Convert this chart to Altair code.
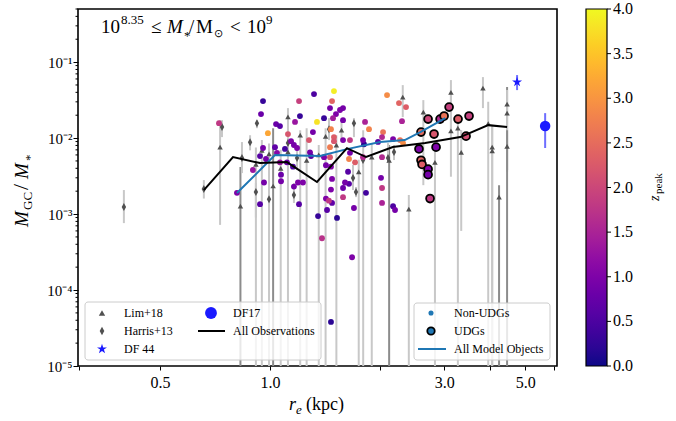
import altair as alt
import pandas as pd

FONT = "Liberation Serif"
OX, OY = 78, 9
W, H = 479, 357

# ---------------- data ----------------
# Lim+18 (triangles): r_e [kpc], M_GC/M_*, lower, upper (lower 1e-9 = error bar reaching zero)
lim_r = [0.73, 0.83, 1.02, 1.07, 1.12, 1.26, 1.75, 1.90, 2.12, 2.31, 2.40, 2.63, 2.83, 3.13, 3.13,
         3.34, 3.83, 4.06, 4.06, 4.24, 4.46, 4.46, 4.46, 0.95, 1.21, 1.36, 1.52, 1.80, 1.57,
         0.915, 0.994, 1.12, 1.42, 3.27, 3.96]
lim_v = [0.0076, 0.00127, 0.00234, 0.0040, 0.019, 0.0051, 0.0036, 0.0056, 0.0051, 0.0346, 0.00116,
         0.022, 0.0048, 0.040, 0.0124, 0.0065, 0.0455, 0.0076, 0.0068, 0.00167, 0.028, 0.0213, 0.0078,
         0.0069, 0.0109, 0.0060, 0.0081, 0.0094, 0.0127,
         0.0045, 0.0062, 0.0066, 0.0105, 0.0135, 0.0155]
lim_lo = [0.00072, 1e-9, 1e-9, 1e-9, 0.0116, 1e-9, 1e-9, 1e-9, 1e-9, 0.0189, 1e-9, 0.0024, 1e-9,
          0.0127, 0.0031, 0.0006, 0.0248, 1e-9, 1e-9, 1e-9, 0.0038, 0.0036, 1e-9, 1e-9, 1e-9, 1e-9,
          1e-9, 1e-9, 0.0094,
          1e-9, 1e-9, 1e-9, 1e-9, 1e-9, 1e-9]
lim_hi = [0.0172, 0.00415, 0.0135, 0.0070, 0.0248, 0.0135, 0.0052, 0.0086, 0.0081, 0.0498, 0.00178,
          0.0316, 0.0074, 0.058, 0.043, 0.0127, 0.0635, 0.0148, 0.014, 0.0024, 0.047, 0.043, 0.0127,
          0.0094, 0.0127, 0.0081, 0.0109, 0.0127, 0.017,
          0.0075, 0.0085, 0.009, 0.0135, 0.02, 0.03]
lim_dark = [0, 1, 1, 0, 0, 0, 0, 0, 1, 0, 0, 0, 0, 0, 0, 0, 0, 0, 0, 1, 1, 0, 1, 0, 0, 0, 0, 0, 0,
            0, 0, 0, 0, 0, 0]

# Harris+13 (diamonds)
har_r = [0.398, 0.659, 0.739, 0.838, 0.882, 0.921, 0.915, 0.994, 1.163, 1.186, 1.451, 1.698, 1.688,
         1.720, 1.798, 2.105, 2.186, 1.120]
har_v = [0.00124, 0.00213, 0.014, 0.00545, 0.0088, 0.0157, 0.00195, 0.00157, 0.00178, 0.00545,
         0.0131, 0.0157, 0.00298, 0.00195, 0.00514, 0.00545, 0.00654, 0.0086]
har_lo = [0.00076, 0.0016, 0.0103, 0.00346, 0.0069, 0.0135, 0.0009, 0.00113, 0.0014, 0.00379,
          0.0094, 0.0103, 0.00207, 0.00167, 0.00415, 0.00469, 0.00514, 0.00695]
har_hi = [0.00207, 0.0028, 0.0172, 0.00886, 0.0109, 0.0172, 0.00256, 0.00207, 0.00256, 0.0074,
          0.0183, 0.0183, 0.00442, 0.00227, 0.00635, 0.0086, 0.0081, 0.0109]

# DF 44 and DF17
df44_r, df44_v, df44_lo, df44_hi = [4.75], [0.0546], [0.0428], [0.0675]
df17_r, df17_v, df17_lo, df17_hi = [5.67], [0.0144], [0.0074], [0.0213]

# All Observations (black line)
obs_line_r = [0.659, 0.792, 0.939, 1.113, 1.345, 1.625, 1.833, 2.17, 2.66, 3.32, 3.96, 4.46]
obs_line_v = [0.00207, 0.00563, 0.00469, 0.00483, 0.00264, 0.00738, 0.00563, 0.00762, 0.0086,
              0.0103, 0.0148, 0.014]

# All Model Objects (blue line)
mod_line_r = [0.812, 1.032, 1.371, 1.625, 2.0, 2.34, 2.58, 3.02]
mod_line_v = [0.00189, 0.00597, 0.0058, 0.00716, 0.00886, 0.0094, 0.012, 0.0183]

# Model non-UDGs: r_e, M_GC/M_*, z_peak
nu_r = [0.725, 0.957, 0.945, 0.987, 1.201, 1.320, 1.497, 1.479, 1.208, 1.171, 1.039, 1.065, 1.345,
        1.406, 1.460, 1.516, 1.488, 1.469, 1.497, 1.497, 1.311, 1.279, 1.120, 1.142, 1.163, 1.186,
        1.099, 1.032, 0.957, 0.939, 0.975, 1.045, 1.065, 1.113, 0.898, 0.963, 1.072, 1.072, 1.163,
        1.193, 1.231, 1.156, 1.287, 1.295, 1.406, 1.423, 1.460, 1.460, 1.469, 1.479, 1.469, 1.423,
        0.812, 0.939, 1.201, 1.354, 1.433, 1.526, 1.479, 1.45, 1.585, 1.585, 1.646, 1.698, 1.832,
        1.388, 1.678, 1.469, 1.555, 1.585, 1.585, 1.585, 1.821, 1.867, 2.040, 2.027, 1.809, 1.798,
        1.976, 2.173, 2.271, 2.314, 2.092, 2.256, 2.358, 2.299, 1.656, 1.646, 1.710, 1.636, 1.605,
        1.798, 2.027, 2.014, 2.027, 2.027, 2.173, 2.200, 1.656]
nu_v = [0.0157, 0.0307, 0.0207, 0.0116, 0.0307, 0.0379, 0.0415, 0.0307, 0.0195, 0.0163, 0.0153,
        0.0144, 0.0163, 0.0183, 0.0248, 0.0207, 0.0183, 0.0131, 0.0103, 0.0091, 0.0120, 0.0094,
        0.0113, 0.0091, 0.0081, 0.0074, 0.0072, 0.0076, 0.0074, 0.0058, 0.0053, 0.0064, 0.0048,
        0.0048, 0.0038, 0.0026, 0.0033, 0.0027, 0.0023, 0.0026, 0.0026, 0.0042, 0.0065, 0.0058,
        0.0056, 0.0044, 0.0056, 0.0076, 0.0042, 0.0029, 0.0021, 0.0016, 0.0019, 0.00135, 0.00135,
        0.00094, 0.00113, 0.00089, 0.0014, 0.0015, 0.00167, 0.0022, 0.0025, 0.0012, 0.0019, 0.00048,
        0.00027, 0.000038, 0.0234, 0.0248, 0.0172, 0.0094, 0.0163, 0.0131, 0.0120, 0.0103, 0.0083,
        0.0094, 0.0089, 0.0097, 0.0094, 0.0086, 0.0368, 0.0289, 0.0256, 0.0167, 0.0064, 0.0053,
        0.0048, 0.0036, 0.0026, 0.0056, 0.0056, 0.0030, 0.0022, 0.0014, 0.00127, 0.00113, 0.0094]
nu_z = [1.8, 0.3, 0.8, 3.2, 1.9, 0.5, 3.9, 2.4, 0.3, 1.3, 0.8, 0.6, 3.8, 0.3, 0.9, 1.0, 1.4, 2.8,
        2.3, 2.2, 0.9, 2.2, 2.2, 1.0, 0.9, 1.0, 0.4, 0.7, 0.9, 0.6, 0.9, 1.1, 1.3, 0.8, 1.3, 0.9,
        0.8, 0.9, 0.9, 1.0, 1.0, 0.5, 0.9, 0.6, 1.0, 0.9, 2.2, 2.7, 1.0, 1.0, 1.0, 1.0, 1.0, 0.6,
        0.6, 0.3, 0.6, 0.2, 0.7, 1.8, 1.8, 0.8, 0.6, 0.9, 0.4, 1.7, 1.0, 0.2, 1.0, 0.9, 0.9, 1.0,
        1.5, 2.8, 2.6, 1.6, 0.2, 0.9, 0.6, 1.0, 2.6, 2.9, 2.9, 2.4, 2.3, 1.5, 0.9, 2.8, 2.3, 0.6,
        0.9, 1.6, 1.6, 0.9, 1.8, 1.5, 0.5, 0.9, 1.8]

# Model UDGs
udg_r = [2.710, 2.592, 2.814, 2.923, 2.998, 3.094, 3.274, 3.509, 3.443, 2.559, 2.850, 2.592, 2.609,
         2.710, 2.710, 2.744]
udg_v = [0.0178, 0.0120, 0.0113, 0.0178, 0.0195, 0.0256, 0.0178, 0.0195, 0.0106, 0.0072, 0.0076,
         0.0051, 0.0045, 0.0039, 0.0033, 0.0016]
udg_z = [2.0, 2.5, 2.2, 1.6, 2.6, 1.9, 2.3, 1.9, 2.1, 1.0, 1.0, 2.4, 2.3, 1.0, 0.9, 1.8]

# text / ticks
legend_obs = ["Lim+18", "Harris+13", "DF 44", "DF17", "All Observations"]
legend_mod = ["Non-UDGs", "UDGs", "All Model Objects"]
cbar_ticks = [0.0, 0.5, 1.0, 1.5, 2.0, 2.5, 3.0, 3.5, 4.0]
x_tick_vals = [0.3, 0.5, 1, 2, 3, 4, 5, 6]
x_tick_labelled = [0.5, 1, 3, 5]
y_major = [1e-5, 1e-4, 1e-3, 1e-2, 1e-1]
y_minor = [m * d for d in [1e-5, 1e-4, 1e-3, 1e-2] for m in range(2, 10)] + [0.2, 0.3, 0.4, 0.5]

# ---------------- tables ----------------
lim = pd.DataFrame({"r": lim_r, "v": lim_v, "lo": lim_lo, "hi": lim_hi, "dark": lim_dark})
har = pd.DataFrame({"r": har_r, "v": har_v, "lo": har_lo, "hi": har_hi})
df44 = pd.DataFrame({"r": df44_r, "v": df44_v, "lo": df44_lo, "hi": df44_hi})
df17 = pd.DataFrame({"r": df17_r, "v": df17_v, "lo": df17_lo, "hi": df17_hi})
obs_line = pd.DataFrame({"r": obs_line_r, "v": obs_line_v})
mod_line = pd.DataFrame({"r": mod_line_r, "v": mod_line_v})
nonudg = pd.DataFrame({"r": nu_r, "v": nu_v, "z": nu_z})
udg = pd.DataFrame({"r": udg_r, "v": udg_v, "z": udg_z})
minor = pd.DataFrame({"v": y_minor})
dummy = pd.DataFrame({"d": [0]})

# ---------------- scales / axes ----------------
xs = alt.Scale(type="log", domain=[0.298, 6.11], nice=False)
ys = alt.Scale(type="log", domain=[1e-5, 0.5], nice=False)

EXP = "round(log(datum.value)/LN10)"
ylabel = (f"{EXP} == -1 ? '10⁻¹' : {EXP} == -2 ? '10⁻²' : {EXP} == -3 ? '10⁻³' : "
          f"{EXP} == -4 ? '10⁻⁴' : '10⁻⁵'")

xaxis = alt.Axis(values=x_tick_vals, title=None, grid=False, domain=False,
                 labelExpr="indexof(" + str(x_tick_labelled) + ", datum.value) >= 0 ? format(datum.value, '.1f') : ''",
                 tickSize=4, tickColor="black", tickWidth=1, labelFont=FONT, labelFontSize=16,
                 labelColor="black", labelPadding=4, labelOverlap=False)
yaxis = alt.Axis(values=y_major, title=None, grid=False, domain=False, labelExpr=ylabel,
                 tickSize=5, tickColor="black", tickWidth=1, labelFont=FONT, labelFontSize=15,
                 labelColor="black", labelPadding=1, labelOverlap=False)

X = alt.X("r:Q", scale=xs, axis=xaxis)
Y = alt.Y("v:Q", scale=ys, axis=yaxis)
YLO = alt.Y("lo:Q", scale=ys, axis=yaxis)
cscale = alt.Scale(scheme="plasma", domain=[0, 4])
clegend = alt.Legend(orient="right", offset=29, padding=0, title=None, direction="vertical",
                     gradientLength=H, gradientThickness=21, gradientStrokeColor="black",
                     gradientStrokeWidth=1.2, labelOpacity=0, labelFontSize=1)

DIAMOND = "M0,-1L0.55,0L0,1L-0.55,0Z"
STAR = ("M0,-1L0.2245,-0.309L0.951,-0.309L0.363,0.118L0.588,0.809L0,0.382L-0.588,0.809"
        "L-0.363,0.118L-0.951,-0.309L-0.2245,-0.309Z")

# ---------------- data layers ----------------
lim_bars = alt.Chart(lim).mark_rule(strokeWidth=2, clip=True).encode(
    x=X, y=YLO, y2="hi:Q",
    color=alt.condition("datum.dark == 1", alt.value("#8c8c8c"), alt.value("#c8c8c8")))
har_bars = alt.Chart(har).mark_rule(strokeWidth=2, color="#c8c8c8", clip=True).encode(x=X, y=YLO, y2="hi:Q")
lim_pts = alt.Chart(lim).mark_point(shape="triangle-up", filled=True, size=30, color="#505050",
                                    opacity=1).encode(x=X, y=Y)
har_pts = alt.Chart(har).mark_point(shape=DIAMOND, filled=True, size=64, color="#505050",
                                    opacity=1).encode(x=X, y=Y)
nu_pts = alt.Chart(nonudg).mark_circle(size=34, opacity=1).encode(
    x=X, y=Y, color=alt.Color("z:Q", scale=cscale, legend=clegend))
udg_pts = alt.Chart(udg).mark_circle(size=62, opacity=1, stroke="black", strokeWidth=1.8).encode(
    x=X, y=Y, color=alt.Color("z:Q", scale=cscale, legend=clegend))
mod_ln = alt.Chart(mod_line).mark_line(color="#1f77b4", strokeWidth=2).encode(x=X, y=Y)
obs_ln = alt.Chart(obs_line).mark_line(color="black", strokeWidth=2).encode(x=X, y=Y)
df44_bar = alt.Chart(df44).mark_rule(color="#7070ff", strokeWidth=2).encode(x=X, y=YLO, y2="hi:Q")
df44_pt = alt.Chart(df44).mark_point(shape=STAR, filled=True, size=110, color="#1a1aff",
                                     opacity=1).encode(x=X, y=Y)
df17_bar = alt.Chart(df17).mark_rule(color="#6e6eff", strokeWidth=2).encode(x=X, y=YLO, y2="hi:Q")
df17_pt = alt.Chart(df17).mark_point(shape="circle", filled=True, size=110, color="#1a1aff",
                                     opacity=1).encode(x=X, y=Y)
minor_ticks = alt.Chart(minor).mark_rule(color="black", strokeWidth=1).encode(
    y=Y, x=alt.value(-2.5), x2=alt.value(0))

# ---------------- decorations ----------------
deco = []


def txt(s, x, y, size, italic=False, angle=0, align="left", baseline="alphabetic"):
    kw = dict(text=s, fontSize=size, font=FONT, fontStyle="italic" if italic else "normal",
              align=align, baseline=baseline, color="black")
    if angle:
        kw["angle"] = angle
    return alt.Chart(dummy).mark_text(**kw).encode(x=alt.value(x - OX), y=alt.value(y - OY))


def sym(shape, x, y, size, fill, stroke=None, sw=0):
    kw = dict(shape=shape, filled=True, size=size, color=fill, opacity=1)
    if stroke:
        kw.update(stroke=stroke, strokeWidth=sw)
    return alt.Chart(dummy).mark_point(**kw).encode(x=alt.value(x - OX), y=alt.value(y - OY))


def hline(x1, x2, y, color, w=2):
    return alt.Chart(dummy).mark_rule(color=color, strokeWidth=w).encode(
        x=alt.value(x1 - OX), x2=alt.value(x2 - OX), y=alt.value(y - OY))


def box(x1, x2, y1, y2):
    return alt.Chart(dummy).mark_rect(fill="white", fillOpacity=0.8, stroke="#cccccc",
                                      strokeWidth=1, cornerRadius=3).encode(
        x=alt.value(x1 - OX), x2=alt.value(x2 - OX), y=alt.value(y1 - OY), y2=alt.value(y2 - OY))


# legend boxes
deco += [box(85, 321, 302, 360), box(414, 550, 303, 360)]
# observation legend
deco += [sym("triangle-up", 102, 313, 40, "#505050"), txt(legend_obs[0], 124, 313, 12, baseline="middle"),
         sym(DIAMOND, 102, 331, 70, "#505050"), txt(legend_obs[1], 124, 331, 12, baseline="middle"),
         sym(STAR, 102, 349, 110, "#1a1aff"), txt(legend_obs[2], 124, 349, 12, baseline="middle"),
         sym("circle", 211, 313, 140, "#1a1aff"), txt(legend_obs[3], 233, 313, 12, baseline="middle"),
         hline(198, 225, 331, "black"), txt(legend_obs[4], 233, 331, 12, baseline="middle")]
# model legend
deco += [sym("circle", 431, 313, 26, "#1f77b4"), txt(legend_mod[0], 454, 313, 12, baseline="middle"),
         sym("circle", 431, 331, 55, "#1f77b4", "black", 1.8), txt(legend_mod[1], 454, 331, 12, baseline="middle"),
         hline(418, 446, 349, "#1f77b4"), txt(legend_mod[2], 454, 349, 12, baseline="middle")]
# panel title
deco += [txt("10", 101, 33, 19), txt("8.35", 121, 24, 13), txt("≤", 151, 33, 19),
         txt("M", 167, 33, 19, italic=True), txt("*", 184, 40, 13), txt("/", 189, 33, 19),
         txt("M", 196, 33, 19), txt("⊙", 214, 37, 11), txt("<", 230, 33, 19),
         txt("10", 247, 33, 19), txt("9", 266, 24, 13)]
# x title
deco += [txt("r", 289, 410, 18, italic=True), txt("e", 296, 414, 13, italic=True),
         txt("(kpc)", 306, 410, 18)]
# y title (rotated)
deco += [txt("M", 28, 227, 19, italic=True, angle=270), txt("GC", 32, 210, 13, angle=270),
         txt("/", 28, 190, 22, angle=270), txt("M", 28, 179, 19, italic=True, angle=270),
         txt("*", 34, 161, 13, angle=270)]
# colorbar label
deco += [txt("z", 659, 201, 14, italic=True, angle=270), txt("peak", 662, 194, 11, angle=270)]
# colorbar ticks and labels
for t in cbar_ticks:
    yy = 366 - (366 - 9) * t / 4.0
    deco.append(hline(607, 611, yy, "black", 1))
    deco.append(txt(f"{t:.1f}", 613, yy, 16, baseline="middle"))

chart = alt.layer(
    lim_bars, har_bars, lim_pts, har_pts, nu_pts, udg_pts, mod_ln, obs_ln,
    df44_bar, df44_pt, df17_bar, df17_pt, minor_ticks, *deco
).properties(
    width=W, height=H,
    autosize=alt.AutoSizeParams(type="none"),
    padding={"left": OX, "top": OY, "right": 676 - OX - W, "bottom": 421 - OY - H},
    background="white",
).configure_view(stroke="black", strokeWidth=1.6)

chart.save("out.html", embed_options={"renderer": "svg", "actions": False})
